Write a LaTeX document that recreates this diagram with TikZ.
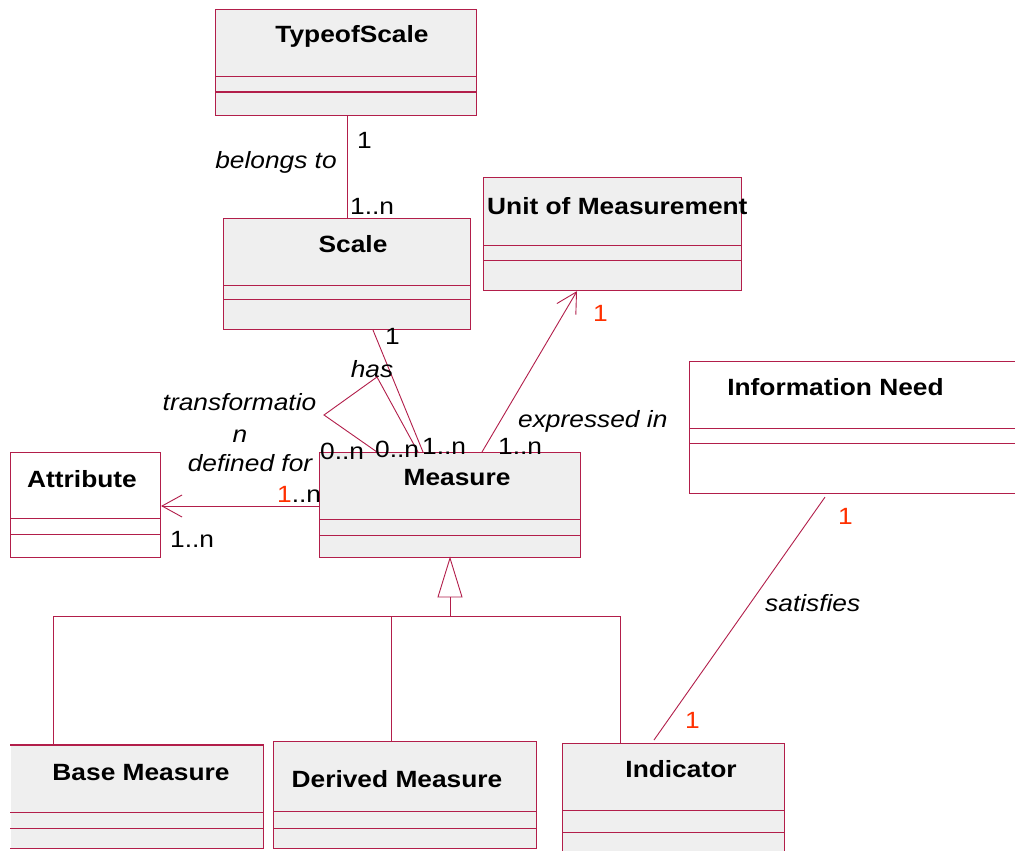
\documentclass[tikz,border=0pt]{standalone}
\usepackage{fontspec}
\setmainfont{Liberation Sans}[FakeStretch=1.12]
\usetikzlibrary{calc,arrows.meta}
\definecolor{umlred}{RGB}{178,30,74}
\definecolor{clsgray}{RGB}{239,239,239}
\definecolor{multred}{RGB}{255,48,0}
\tikzset{
  cls/.style={draw=umlred, line width=1.1pt, fill=clsgray, inner sep=0pt, anchor=north west},
  clsw/.style={cls, fill=white},
  divline/.style={draw=umlred, line width=1pt},
  conn/.style={draw=umlred, line width=0.9pt},
  openarrow/.style={-{Straight Barb[length=20pt,width=22pt,line width=0.9pt]}},
  ctitle/.style={font=\bfseries\fontsize{23.5}{28}\selectfont, anchor=base, inner sep=0pt},
  mult/.style={font=\fontsize{23.5}{28}\selectfont, anchor=base west, inner sep=0pt},
  role/.style={font=\itshape\fontsize{23.5}{28}\selectfont, anchor=base, inner sep=0pt},
}
\newcommand\clsdiv[2]{\draw[divline] ($(#1.north west)+(0,#2)$) -- ($(#1.north east)+(0,#2)$);}
\begin{document}
\begin{tikzpicture}[x=1pt,y=-1pt]
\useasboundingbox (0,0) rectangle (1015,851);
\clip (0,0) rectangle (1015,851);
\fill[white] (0,0) rectangle (1015,851);

% classes
\node[cls, minimum width=261pt, minimum height=106pt] (tos) at (215,9) {};
\clsdiv{tos}{68}\clsdiv{tos}{83}
\node[ctitle] (tost) at (352,43) {TypeofScale};

\node[cls, minimum width=247pt, minimum height=111pt] (scale) at (223,218) {};
\clsdiv{scale}{67}\clsdiv{scale}{81}
\node[ctitle] (scalet) at (353,252) {Scale};

\node[cls, minimum width=258pt, minimum height=113pt] (unit) at (483,177) {};
\clsdiv{unit}{68}\clsdiv{unit}{83}
\node[ctitle, anchor=base west] (unitt) at (487,214) {Unit of Measurement};

\node[clsw, minimum width=340pt, minimum height=132pt] (info) at (689,361) {};
\clsdiv{info}{67}\clsdiv{info}{82}
\node[ctitle] (infot) at (835.5,395) {Information Need};

\node[clsw, minimum width=150pt, minimum height=105pt] (attr) at (10,452) {};
\clsdiv{attr}{66}\clsdiv{attr}{82}
\node[ctitle] (attrt) at (82,487) {Attribute};

\node[cls, minimum width=261pt, minimum height=105pt] (meas) at (319,452) {};
\clsdiv{meas}{67}\clsdiv{meas}{83}
\node[ctitle] (meast) at (457,485) {Measure};

\node[cls, draw=none, minimum width=252pt, minimum height=102pt] (bm) at (10,745) {};
\draw[umlred, line width=1.1pt] (bm.north west) -- (bm.north east) -- (bm.south east) -- (bm.south west);
\clsdiv{bm}{67}\clsdiv{bm}{83}
\node[ctitle] (bmt) at (141,780) {Base Measure};

\node[cls, minimum width=263pt, minimum height=107pt] (dm) at (273,741) {};
\clsdiv{dm}{70}\clsdiv{dm}{87}
\node[ctitle] (dmt) at (397,787) {Derived Measure};

\node[cls, minimum width=222pt, minimum height=130pt] (ind) at (562,743) {};
\clsdiv{ind}{67}\clsdiv{ind}{89}
\node[ctitle] (indt) at (681,777) {Indicator};

% associations
\draw[conn] ($(tos.south west)+(132,0)$) -- ($(scale.north west)+(124,0)$);
\node[mult] (m1) at (357,148) {1};
\node[role] (r1) at (276,168) {belongs to};
\node[mult] (m2) at (350,214) {1..n};

\draw[conn] ($(scale.south west)+(150,0)$) -- ($(meas.north west)+(104,0)$);
\node[mult] (m3) at (385,344) {1};
\node[role] (r2) at (372,377) {has};

\coordinate (lp1) at (377,377);
\coordinate (lp2) at (324,415);
\draw[conn] ($(meas.north west)+(99,0)$) -- (lp1) -- (lp2) -- ($(meas.north west)+(58,0)$);
\node[role] (r3) at (239.5,410) {transformatio};
\node[role] (r3b) at (240,442) {n};
\node[mult] (m4) at (320,459) {0..n};
\node[mult] (m5) at (375,457) {0..n};
\node[mult] (m6) at (422,454) {1..n};

\draw[conn, openarrow] ($(meas.north west)+(163,0)$) -- ($(unit.south west)+(94,0)$);
\node[mult] (m7) at (498,454) {1..n};
\node[role, anchor=base west] (r4) at (518,427) {expressed in};
\node[mult, text=multred] (m8) at (593,321) {1};

\draw[conn, openarrow] ($(meas.north west)+(0,54)$) -- ($(attr.north east)+(0,54)$);
\node[role] (r5) at (250,471) {defined for};
\node[mult] (m9) at (277,502) {\textcolor{multred}{1}..n};
\node[mult] (m10) at (170,547) {1..n};

\draw[conn] ($(info.south west)+(136,3)$) -- ($(ind.north west)+(92,-3)$);
\node[mult, text=multred] (m11) at (838,524) {1};
\node[role, anchor=base west] (r6) at (765,611) {satisfies};
\node[mult, text=multred] (m12) at (685,728) {1};

% generalization
\coordinate (gapex) at ($(meas.south west)+(131,0)$);
\coordinate (gbase) at (450,597);
\coordinate (gjoin) at (450,616);
\draw[conn, fill=white] (gapex) -- (438,597) -- (462,597) -- cycle;
\draw[conn] (gbase) -- (gjoin);
\draw[conn] (53,616) -- (620,616);
\draw[conn] (53,616) -- ($(bm.north west)+(43,0)$);
\draw[conn] (391,616) -- ($(dm.north west)+(118,0)$);
\draw[conn] (620,616) -- ($(ind.north west)+(58,0)$);
\end{tikzpicture}
\end{document}
